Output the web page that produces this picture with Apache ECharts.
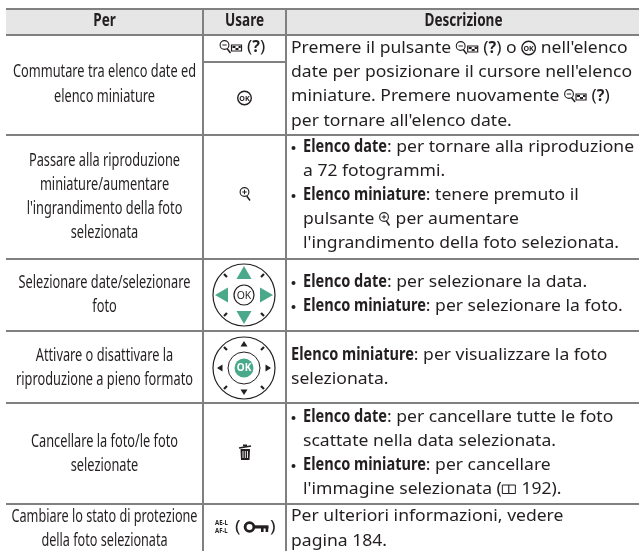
<!DOCTYPE html>
<html><head><meta charset="utf-8">
<style>html,body{margin:0;padding:0;background:#fff}#c{width:639px;height:551px}</style>
<script src="https://cdn.jsdelivr.net/npm/echarts@6/dist/echarts.min.js"></script>
</head><body><div id="c"></div>
<script>
// ---- content ----
const headers = ['Per', 'Usare', 'Descrizione'];
const actions = [
  ['Commutare tra elenco date ed', 'elenco miniature'],
  ['Passare alla riproduzione', 'miniature/aumentare', "l'ingrandimento della foto", 'selezionata'],
  ['Selezionare date/selezionare', 'foto'],
  ['Attivare o disattivare la', 'riproduzione a pieno formato'],
  ['Cancellare la foto/le foto', 'selezionate'],
  ['Cambiare lo stato di protezione', 'della foto selezionata']
];
const descriptions = [
  ["Premere il pulsante {thumb} ({q}) o {ok} nell'elenco", "date per posizionare il cursore nell'elenco", "miniature. Premere nuovamente {thumb} ({q})", "per tornare all'elenco date."],
  ["• *Elenco date*: per tornare alla riproduzione", "  a 72 fotogrammi.", "• *Elenco miniature*: tenere premuto il", "  pulsante {plus} per aumentare", "  l'ingrandimento della foto selezionata."],
  ["• *Elenco date*: per selezionare la data.", "• *Elenco miniature*: per selezionare la foto."],
  ["*Elenco miniature*: per visualizzare la foto", "selezionata."],
  ["• *Elenco date*: per cancellare tutte le foto", "  scattate nella data selezionata.", "• *Elenco miniature*: per cancellare", "  l'immagine selezionata ({book} 192)."],
  ["Per ulteriori informazioni, vedere", "pagina 184."]
];
// ---- layout ----
const colX = [203, 286];
const tableLeft = 6, tableRight = 639, tableBottom = 551, headTop = 9, headBottom = 35;
const ruleY = [9, 35, 135, 259, 331, 403, 504];
const subRule = 62;
const actionY = [[72, 97], [161, 185, 209, 233], [283, 307], [356, 380], [442, 466], [517, 541]];
const descY = [[48, 72, 96, 121], [147, 171, 195, 219, 243], [282, 306], [355, 379], [417, 441, 465, 489], [516, 541]];
const INK = '#231f20', RULE = '#808080', GREEN = '#4aa98a';
const FONT = '"Noto Sans"';
const SIZE_COND = 18, SIZE_BOLD = 17.5, SIZE_DESC = 16;

const ctx = document.createElement('canvas').getContext('2d');
function w(t, bold, size) { ctx.font = (bold ? 'bold ' : '') + (size || 16) + 'px ' + FONT; return ctx.measureText(t).width; }
const sDesc = 341 / w("date per posizionare il cursore nell'elenco");
const sCond = 183 / w('Commutare tra elenco date ed', false, SIZE_COND);
const sBold = 84 / w('Elenco date', true, SIZE_BOLD);
const sHead = 78 / w('Descrizione', true, SIZE_BOLD);
const sTight = 186 / w('Cambiare lo stato di protezione', false, SIZE_COND);

function txt(t, x, y, o) {
  o = o || {};
  return { type: 'text', x, y, scaleX: o.sx || 1, scaleY: 1, silent: true,
    style: { text: t, x: 0, y: 0, align: o.align || 'left', verticalAlign: 'middle', fill: o.fill || INK,
      font: (o.bold ? 'bold ' : '') + (o.size || 16) + 'px ' + (o.family || FONT) } };
}
const line = (x1, y1, x2, y2, lw, c) => ({ type: 'line', silent: true, shape: { x1, y1, x2, y2 }, style: { stroke: c || INK, lineWidth: lw || 1, fill: null } });
const circ = (cx, cy, r, o) => ({ type: 'circle', silent: true, shape: { cx, cy, r }, style: Object.assign({ fill: 'none', stroke: INK, lineWidth: 1 }, o || {}) });
const poly = (pts, c) => ({ type: 'polygon', silent: true, shape: { points: pts }, style: { fill: c || INK, stroke: null } });
const rect = (x, y, width, height, o) => ({ type: 'rect', silent: true, shape: { x, y, width, height }, style: Object.assign({ fill: INK, stroke: null }, o || {}) });

// inline icons: each draws from a left edge x around a centre y, returns its advance
const icons = {
  thumb(x, y, out) {
    out.push(circ(x + 5, y - 2, 4.4, { lineWidth: 1.1 }), line(x + 2.8, y - 2, x + 7.2, y - 2, 1),
      line(x + 7.5, y + 1.5, x + 11, y + 6, 1.5));
    out.push(rect(x + 12, y - 2, 10, 6, { fill: '#fff', stroke: INK, lineWidth: 1.2 }));
    out.push(rect(x + 13, y - 1, 3, 2), rect(x + 16, y + 1, 3, 2), rect(x + 19, y - 1, 2.2, 2));
    return 23;
  },
  ok(x, y, out) {
    out.push(circ(x + 7.5, y, 6.8, { lineWidth: 1.4 }), txt('OK', x + 7.5, y + .5, { align: 'center', size: 7.5, bold: true, sx: .95 }));
    return 15;
  },
  plus(x, y, out) {
    out.push(circ(x + 5, y - 2, 4.4, { lineWidth: 1.1 }), line(x + 2.8, y - 2, x + 7.2, y - 2, 1), line(x + 5, y - 4.2, x + 5, y + .2, 1),
      line(x + 7.2, y + 2, x + 10.5, y + 6.5, 1.5));
    return 12;
  },
  book(x, y, out) {
    out.push(rect(x + .5, y - 4, 6.5, 8.5, { fill: '#fff', stroke: INK, lineWidth: 1 }), rect(x + 7, y - 4, 6.5, 8.5, { fill: '#fff', stroke: INK, lineWidth: 1 }));
    return 15;
  },
  q(x, y, out) {
    out.push(txt('?', x, y, { bold: true, size: 16 }));
    return w('?', true);
  }
};

function flow(str, x0, y, out) {
  let x = x0;
  if (str.startsWith('• ')) { out.push(circ(x0 + 2.5, y + 1, 2, { fill: INK, stroke: null })); str = str.slice(2); x = x0 + 12; }
  else if (str.startsWith('  ')) { str = str.slice(2); x = x0 + 12; }
  str.split(/(\*[^*]+\*|\{[a-z]+\})/).filter(Boolean).forEach(p => {
    if (p[0] === '*') { const t = p.slice(1, -1); out.push(txt(t, x, y, { bold: true, sx: sBold, size: SIZE_BOLD })); x += w(t, true, SIZE_BOLD) * sBold; }
    else if (p[0] === '{') { x += icons[p.slice(1, -1)](x, y, out); }
    else { out.push(txt(p, x, y, { sx: sDesc })); x += w(p) * sDesc; }
  });
}

function selector(cx, cy, active, out) {
  out.push(circ(cx, cy, 31, { lineWidth: 1.2 }));
  [[1, 1], [1, -1], [-1, 1], [-1, -1]].forEach(([a, b]) => {
    out.push(line(cx + a * 17, cy + b * 18, cx + a * 20, cy + b * 21, 2.2));
  });
  if (active) {
    out.push(circ(cx, cy, 16, { lineWidth: 1 }), circ(cx, cy, 9.5, { fill: GREEN, stroke: null }),
      txt('OK', cx, cy + .5, { align: 'center', size: 10.5, bold: true, fill: '#fff', sx: .95 }));
    out.push(poly([[cx, cy - 27], [cx - 3.5, cy - 21.5], [cx + 3.5, cy - 21.5]]), poly([[cx, cy + 27], [cx - 3.5, cy + 21.5], [cx + 3.5, cy + 21.5]]),
      poly([[cx - 27, cy], [cx - 21.5, cy - 3.5], [cx - 21.5, cy + 3.5]]), poly([[cx + 27, cy], [cx + 21.5, cy - 3.5], [cx + 21.5, cy + 3.5]]));
  } else {
    out.push(circ(cx, cy, 10, { lineWidth: 1.2 }), txt('OK', cx, cy + .5, { align: 'center', size: 11, sx: .95 }));
    out.push(poly([[cx, cy - 29], [cx - 7.5, cy - 16], [cx + 7.5, cy - 16]], GREEN), poly([[cx, cy + 29], [cx - 7.5, cy + 16], [cx + 7.5, cy + 16]], GREEN),
      poly([[cx - 29, cy], [cx - 16, cy - 7.5], [cx - 16, cy + 7.5]], GREEN), poly([[cx + 29, cy], [cx + 16, cy - 7.5], [cx + 16, cy + 7.5]], GREEN));
  }
}

function usareColumn(out) {
  const cx = 244.5;
  let x = cx - 25;
  x += icons.thumb(x, 47, out);
  out.push(txt(' (', x, 47, { sx: sDesc })); x += w(' (') * sDesc;
  x += icons.q(x, 47, out);
  out.push(txt(')', x, 47, { sx: sDesc }));
  icons.ok(cx - 7.5, 98, out);
  icons.plus(cx - 5, 194, out);
  selector(244, 295, false, out);
  selector(244, 368, true, out);
  // trash
  out.push(line(239, 448, 251, 446, 1.4), rect(243, 444.5, 4, 2), poly([[240.5, 449], [250, 449], [249.5, 460], [241, 460]]));
  out.push(line(243, 451, 243, 458, .9, '#fff'), line(245.3, 451, 245.3, 458, .9, '#fff'), line(247.5, 451, 247.5, 458, .9, '#fff'));
  // AE-L / AF-L
  out.push(txt('AE-L', 215, 522.5, { bold: true, size: 7.5, sx: .8 }), txt('AF-L', 215, 530.5, { bold: true, size: 7.5, sx: .8 }));
  out.push(txt('(', 235, 527, { size: 17, sx: sDesc }), txt(')', 270, 527, { size: 17, sx: sDesc }));
  // key
  out.push(circ(249.5, 527, 4.4, { lineWidth: 2.8 }), rect(254, 525.3, 14.5, 3.2), rect(261, 527, 2.6, 5), rect(265.6, 527, 2.6, 5));
}

function cellsGroup(coord) {
  const out = [];
  const base = coord([0, 0]);
  headers.forEach((h, i) => out.push(txt(h, [104.5, 244.5, 463.5][i], 21.5, { align: 'center', bold: true, sx: sHead, size: SIZE_BOLD })));
  actions.forEach((row, r) => row.forEach((t, l) => {
    out.push(txt(t, 104.5, actionY[r][l], { align: 'center', sx: r === 5 ? sTight : sCond, size: SIZE_COND }));
  }));
  descriptions.forEach((row, r) => row.forEach((t, l) => flow(t, 291, descY[r][l], out)));
  usareColumn(out);
  return { type: 'group', x: base[0], y: base[1], children: out };
}

const chart = echarts.init(document.getElementById('c'), null, { renderer: 'canvas' });
chart.setOption({
  animation: false,
  backgroundColor: '#fff',
  grid: { left: 0, right: 0, top: 0, bottom: 0 },
  xAxis: { type: 'value', min: 0, max: 639, show: false },
  yAxis: { type: 'value', min: 0, max: 551, inverse: true, show: false },
  tooltip: { show: false },
  series: [
    { type: 'custom', name: 'header', clip: false, silent: true, coordinateSystem: 'cartesian2d', data: [[tableLeft, headTop, tableRight, headBottom]],
      renderItem: (p, api) => { const a = api.coord([api.value(0), api.value(1)]), b = api.coord([api.value(2), api.value(3)]);
        return { type: 'rect', shape: { x: a[0], y: a[1], width: b[0] - a[0], height: b[1] - a[1] }, style: { fill: '#e6e6e6' } }; } },
    { type: 'custom', name: 'hrules', clip: false, silent: true, data: ruleY.map(y => [tableLeft, y, tableRight]).concat([[colX[0], subRule, colX[1]]]),
      renderItem: (p, api) => { const a = api.coord([api.value(0), api.value(1)]), b = api.coord([api.value(2), api.value(1)]);
        return { type: 'line', shape: { x1: a[0], y1: a[1], x2: b[0], y2: b[1] }, style: { stroke: RULE, lineWidth: 2 } }; } },
    { type: 'custom', name: 'vrules', clip: false, silent: true, data: colX.map(x => [x, headTop, tableBottom]),
      renderItem: (p, api) => { const a = api.coord([api.value(0), api.value(1)]), b = api.coord([api.value(0), api.value(2)]);
        return { type: 'line', shape: { x1: a[0], y1: a[1], x2: b[0], y2: b[1] }, style: { stroke: RULE, lineWidth: 2 } }; } },
    { type: 'custom', name: 'cells', clip: false, silent: true, data: [[0, 0]],
      renderItem: (p, api) => cellsGroup(api.coord) }
  ]
});
</script></body></html>
